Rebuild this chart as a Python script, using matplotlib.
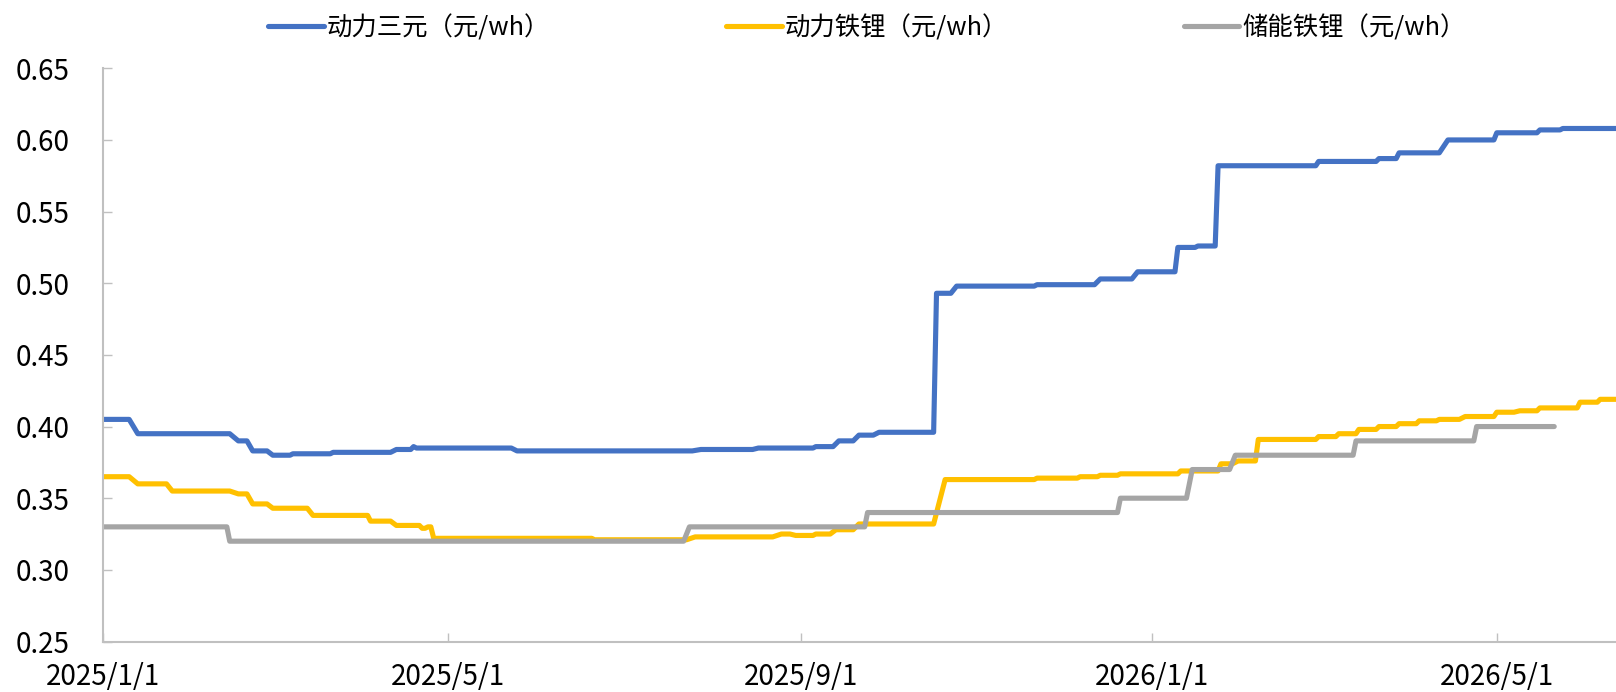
import matplotlib
matplotlib.use("Agg")
import matplotlib.pyplot as plt
import matplotlib.dates as mdates
import pandas as pd
import numpy as np

plt.rcParams['font.family'] = ['Noto Sans CJK SC', 'DejaVu Sans']

# ---------------- data ----------------
ncm_dates = ["2025-01-01", "2025-01-10", "2025-01-13", "2025-02-14", "2025-02-17", "2025-02-20",
             "2025-02-22", "2025-02-27", "2025-03-01", "2025-03-07", "2025-03-08", "2025-03-21",
             "2025-03-22", "2025-04-11", "2025-04-13", "2025-04-18", "2025-04-19", "2025-04-20",
             "2025-05-23", "2025-05-25", "2025-07-25", "2025-07-28", "2025-08-15", "2025-08-17",
             "2025-09-05", "2025-09-06", "2025-09-12", "2025-09-14", "2025-09-19", "2025-09-21",
             "2025-09-26", "2025-09-28", "2025-10-17", "2025-10-18", "2025-10-23", "2025-10-25",
             "2025-11-21", "2025-11-22", "2025-12-12", "2025-12-14", "2025-12-25", "2025-12-27",
             "2026-01-09", "2026-01-10", "2026-01-16", "2026-01-17", "2026-01-23", "2026-01-24",
             "2026-02-27", "2026-02-28", "2026-03-20", "2026-03-21", "2026-03-27", "2026-03-28",
             "2026-04-11", "2026-04-14", "2026-04-30", "2026-05-01", "2026-05-15", "2026-05-16",
             "2026-05-23", "2026-05-24", "2026-06-12"]
ncm_values = [0.405, 0.405, 0.395, 0.395, 0.390, 0.390,
              0.383, 0.383, 0.380, 0.380, 0.381, 0.381,
              0.382, 0.382, 0.384, 0.384, 0.386, 0.385,
              0.385, 0.383, 0.383, 0.384, 0.384, 0.385,
              0.385, 0.386, 0.386, 0.390, 0.390, 0.394,
              0.394, 0.396, 0.396, 0.493, 0.493, 0.498,
              0.498, 0.499, 0.499, 0.503, 0.503, 0.508,
              0.508, 0.525, 0.525, 0.526, 0.526, 0.582,
              0.582, 0.585, 0.585, 0.587, 0.587, 0.591,
              0.591, 0.600, 0.600, 0.605, 0.605, 0.607,
              0.607, 0.608, 0.608]

lfp_ev_dates = ["2025-01-01", "2025-01-10", "2025-01-13", "2025-01-23", "2025-01-25", "2025-02-14",
                "2025-02-17", "2025-02-20", "2025-02-22", "2025-02-27", "2025-03-01", "2025-03-13",
                "2025-03-15", "2025-04-03", "2025-04-04", "2025-04-11", "2025-04-13", "2025-04-21",
                "2025-04-22", "2025-04-23", "2025-04-24", "2025-04-25", "2025-04-26", "2025-06-20",
                "2025-06-21", "2025-07-23", "2025-07-26", "2025-08-22", "2025-08-25", "2025-08-28",
                "2025-08-30", "2025-09-05", "2025-09-06", "2025-09-11", "2025-09-13", "2025-09-19",
                "2025-09-21", "2025-10-17", "2025-10-21", "2025-11-21", "2025-11-22", "2025-12-06",
                "2025-12-07", "2025-12-13", "2025-12-14", "2025-12-20", "2025-12-21", "2026-01-10",
                "2026-01-11", "2026-01-24", "2026-01-25", "2026-01-29", "2026-01-31", "2026-02-06",
                "2026-02-07", "2026-02-27", "2026-02-28", "2026-03-06", "2026-03-07", "2026-03-13",
                "2026-03-14", "2026-03-20", "2026-03-21", "2026-03-27", "2026-03-28", "2026-04-03",
                "2026-04-04", "2026-04-10", "2026-04-11", "2026-04-18", "2026-04-20", "2026-04-30",
                "2026-05-01", "2026-05-07", "2026-05-09", "2026-05-15", "2026-05-16", "2026-05-29",
                "2026-05-30", "2026-06-05", "2026-06-06", "2026-06-12"]
lfp_ev_values = [0.365, 0.365, 0.360, 0.360, 0.355, 0.355,
                 0.353, 0.353, 0.346, 0.346, 0.343, 0.343,
                 0.338, 0.338, 0.334, 0.334, 0.331, 0.331,
                 0.329, 0.329, 0.330, 0.330, 0.322, 0.322,
                 0.321, 0.321, 0.323, 0.323, 0.325, 0.325,
                 0.324, 0.324, 0.325, 0.325, 0.328, 0.328,
                 0.332, 0.332, 0.363, 0.363, 0.364, 0.364,
                 0.365, 0.365, 0.366, 0.366, 0.367, 0.367,
                 0.369, 0.369, 0.374, 0.374, 0.376, 0.376,
                 0.391, 0.391, 0.393, 0.393, 0.395, 0.395,
                 0.398, 0.398, 0.400, 0.400, 0.402, 0.402,
                 0.404, 0.404, 0.405, 0.405, 0.407, 0.407,
                 0.410, 0.410, 0.411, 0.411, 0.413, 0.413,
                 0.417, 0.417, 0.419, 0.419]

lfp_ess_dates = ["2025-01-01", "2025-02-13", "2025-02-14", "2025-07-22", "2025-07-24", "2025-09-23",
                 "2025-09-24", "2025-12-20", "2025-12-21", "2026-01-13", "2026-01-15", "2026-01-28",
                 "2026-01-30", "2026-03-12", "2026-03-13", "2026-04-23", "2026-04-24", "2026-05-21"]
lfp_ess_values = [0.330, 0.330, 0.320, 0.320, 0.330, 0.330,
                  0.340, 0.340, 0.350, 0.350, 0.370, 0.370,
                  0.380, 0.380, 0.390, 0.390, 0.400, 0.400]

series_labels = ["动力三元（元/wh）", "动力铁锂（元/wh）", "储能铁锂（元/wh）"]
series_colors = ["#4472C4", "#FFC000", "#A5A5A5"]

x_ticks = ["2025-01-01", "2025-05-01", "2025-09-01", "2026-01-01", "2026-05-01"]
y_ticks = [0.25, 0.30, 0.35, 0.40, 0.45, 0.50, 0.55, 0.60, 0.65]

# ---------------- plot ----------------
fig = plt.figure(figsize=(16.16, 6.92), dpi=100)
ax = fig.add_axes([103.3 / 1616, 1 - 641.5 / 692, 1 - 103.3 / 1616, (641.5 - 68.3) / 692])

all_dates = [ncm_dates, lfp_ev_dates, lfp_ess_dates]
all_values = [ncm_values, lfp_ev_values, lfp_ess_values]
for d, v, lab, c in zip(all_dates, all_values, series_labels, series_colors):
    ax.plot(pd.to_datetime(d), v, color=c, lw=3.7, label=lab,
            solid_capstyle='round', solid_joinstyle='round')

ax.set_ylim(0.25, 0.65)
ax.set_yticks(y_ticks)
ax.yaxis.set_major_formatter(matplotlib.ticker.FormatStrFormatter('%.2f'))
ax.set_xlim(pd.Timestamp("2025-01-01"), pd.Timestamp("2026-06-11 12:00"))
ax.set_xticks(pd.to_datetime(x_ticks))
ax.xaxis.set_major_formatter(matplotlib.ticker.FuncFormatter(
    lambda x, pos: (lambda d: f"{d.year}/{d.month}/{d.day}")(mdates.num2date(x))))

for s in ['top', 'right']:
    ax.spines[s].set_visible(False)
for s in ['left', 'bottom']:
    ax.spines[s].set_color('#C0C0C0')
    ax.spines[s].set_linewidth(1.5)

ax.tick_params(axis='both', direction='in', length=6.5, width=1.0, color='#C0C0C0',
               labelsize=20, labelcolor='black')
ax.tick_params(axis='y', pad=24)
ax.tick_params(axis='x', pad=15)

fig.legend(loc='center', bbox_to_anchor=(0.5365, 1 - 28 / 692), ncol=3, frameon=False,
           fontsize=18.3, handlelength=2.2, handletextpad=0.12, columnspacing=6.9)

fig.savefig("out.png", dpi=100)
